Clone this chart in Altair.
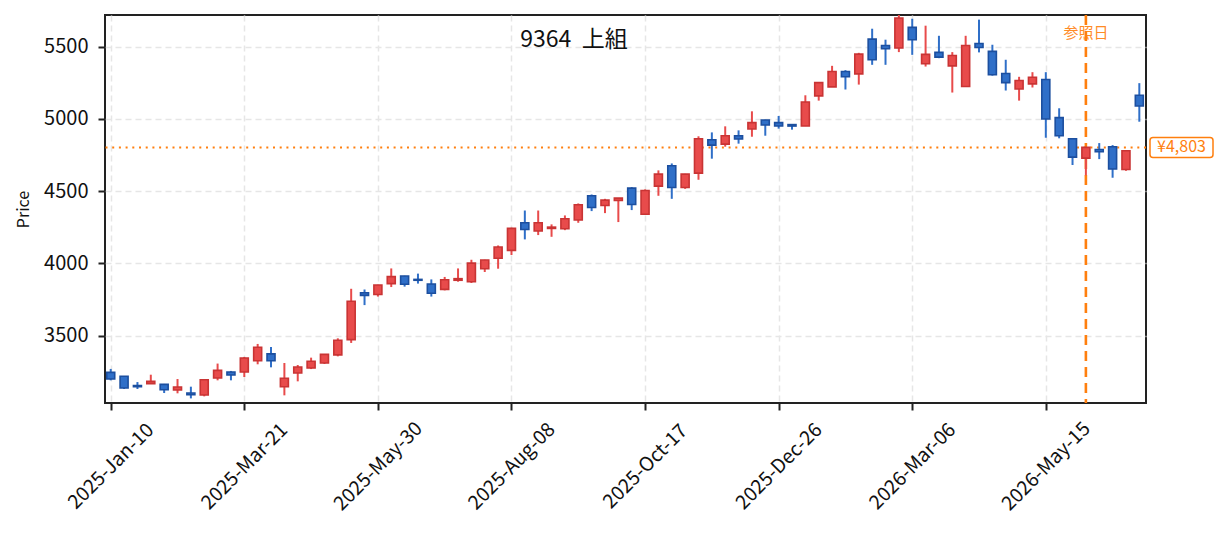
import altair as alt
import pandas as pd

# Weekly candles (week ending Fridays), starting 2025-01-10
start_date = "2025-01-10"
n_weeks = 78

opens = [3245, 3218, 3153, 3167, 3162, 3123, 3102, 3088, 3206, 3248,
         3248, 3326, 3373, 3146, 3241, 3275, 3310, 3366, 3472, 3796,
         3784, 3860, 3912, 3889, 3857, 3820, 3883, 3873, 3963, 4035,
         4090, 4281, 4224, 4242, 4240, 4300, 4468, 4401, 4435, 4521,
         4340, 4535, 4676, 4525, 4625, 4856, 4826, 4884, 4931, 4993,
         4975, 4961, 4951, 5160, 5222, 5329, 5312, 5553, 5509, 5491,
         5634, 5382, 5461, 5368, 5225, 5523, 5468, 5315, 5208, 5243,
         5273, 5009, 4863, 4729, 4789, 4808, 4650, 5164]
highs = [3269, 3220, 3178, 3229, 3165, 3199, 3146, 3196, 3306, 3255,
         3352, 3442, 3421, 3310, 3296, 3347, 3372, 3481, 3824, 3819,
         3852, 3965, 3914, 3929, 3889, 3906, 3965, 4025, 4025, 4124,
         4247, 4366, 4366, 4270, 4332, 4415, 4477, 4447, 4452, 4528,
         4512, 4644, 4692, 4620, 4880, 4907, 4949, 4921, 5053, 4995,
         5021, 4963, 5164, 5252, 5368, 5338, 5458, 5625, 5549, 5750,
         5694, 5646, 5576, 5463, 5576, 5688, 5514, 5410, 5292, 5324,
         5324, 5074, 4865, 4805, 4833, 4819, 4782, 5248]
lows = [3190, 3130, 3130, 3167, 3102, 3100, 3065, 3079, 3190, 3190,
        3213, 3301, 3280, 3086, 3183, 3268, 3303, 3356, 3449, 3711,
        3770, 3836, 3839, 3860, 3770, 3813, 3873, 3864, 3940, 3963,
        4058, 4166, 4196, 4184, 4230, 4281, 4362, 4348, 4286, 4369,
        4338, 4468, 4447, 4516, 4579, 4725, 4808, 4829, 4877, 4884,
        4933, 4926, 4951, 5127, 5222, 5204, 5238, 5375, 5375, 5463,
        5444, 5363, 5421, 5183, 5225, 5461, 5300, 5197, 5127, 5218,
        4870, 4866, 4681, 4610, 4722, 4593, 4641, 4981]
closes = [3199, 3137, 3146, 3183, 3125, 3144, 3090, 3194, 3259, 3227,
          3345, 3419, 3326, 3204, 3282, 3322, 3370, 3468, 3738, 3778,
          3850, 3908, 3855, 3883, 3793, 3887, 3894, 4002, 4023, 4113,
          4242, 4235, 4281, 4251, 4309, 4406, 4387, 4438, 4452, 4408,
          4505, 4618, 4525, 4618, 4863, 4819, 4884, 4861, 4975, 4958,
          4951, 4951, 5118, 5252, 5329, 5292, 5449, 5410, 5486, 5699,
          5549, 5447, 5428, 5440, 5509, 5495, 5306, 5252, 5266, 5289,
          5000, 4884, 4736, 4803, 4773, 4653, 4780, 5090]

tick_dates = [(2025, 1, 10), (2025, 3, 21), (2025, 5, 30), (2025, 8, 8),
              (2025, 10, 17), (2025, 12, 26), (2026, 3, 6), (2026, 5, 15)]
y_ticks = [3500, 4000, 4500, 5000, 5500]
ref_date = "2026-06-05"
ref_price = 4803
ref_label = "¥4,803"
ref_text = "参照日"
title_text = "9364\u00a0\u00a0上組"

dates = pd.date_range(start_date, periods=n_weeks, freq="7D").strftime("%Y-%m-%d")
df = pd.DataFrame({"date": dates, "open": opens, "high": highs,
                   "low": lows, "close": closes})
df["dir"] = ["up" if c >= o else "down" for o, c in zip(opens, closes)]

FONT = "Noto Sans CJK JP"
RED_FILL, RED_EDGE = "#e84b4b", "#c93434"
BLUE_FILL, BLUE_EDGE = "#2f6fc8", "#1c4f9f"
ORANGE = "#ff7f0e"

x_scale = alt.Scale(type="utc", nice=False, padding=0,
                    domain=[alt.DateTime(year=2025, month=1, date=7, utc=True),
                            alt.DateTime(year=2026, month=7, date=6, hours=12, utc=True)])
y_scale = alt.Scale(domain=[3033, 5720], nice=False, zero=False, padding=0)

x_axis = alt.Axis(values=[alt.DateTime(year=y, month=m, date=d, utc=True) for y, m, d in tick_dates],
                  labelExpr="utcFormat(datum.value, '%Y-%b-%d')", labelAngle=-45,
                  labelAlign="center", labelBaseline="middle", labelPadding=56,
                  labelFontSize=19.5, title=None, labelOverlap=False, labelBound=False,
                  labelFlush=False)
y_axis = alt.Axis(values=y_ticks, format="d", title="Price", titleFontSize=16,
                  titleFontWeight="normal", labelFontSize=20, labelPadding=10,
                  titlePadding=12)

base = alt.Chart(df).encode(
    x=alt.X("date:T", scale=x_scale, axis=x_axis),
)

color_dom = ["up", "down"]
wicks = base.mark_rule(strokeWidth=2, clip=True).encode(
    y=alt.Y("low:Q", scale=y_scale, axis=y_axis),
    y2="high:Q",
    color=alt.Color("dir:N", scale=alt.Scale(domain=color_dom, range=[RED_FILL, BLUE_FILL]), legend=None),
)
bodies = base.mark_bar(width=8, strokeWidth=1.6, clip=True).encode(
    y=alt.Y("open:Q"),
    y2="close:Q",
    fill=alt.Fill("dir:N", scale=alt.Scale(domain=color_dom, range=[RED_FILL, BLUE_FILL]), legend=None),
    stroke=alt.Stroke("dir:N", scale=alt.Scale(domain=color_dom, range=[RED_EDGE, BLUE_EDGE]), legend=None),
)

ref_df = pd.DataFrame({"date": [ref_date], "price": [ref_price],
                       "label": [ref_label], "rtext": [ref_text]})

hline = alt.Chart(ref_df).mark_rule(color=ORANGE, strokeWidth=2, strokeDash=[2, 4.7]).encode(
    y=alt.Y("price:Q"))
vline = alt.Chart(ref_df).mark_rule(color=ORANGE, strokeWidth=2.6, strokeDash=[10, 6]).encode(
    x=alt.X("date:T"))
ref_txt = alt.Chart(ref_df).mark_text(color=ORANGE, fontSize=15, font=FONT, opacity=0.9,
                                      baseline="middle").encode(
    x=alt.X("date:T"), y=alt.value(18), text="rtext:N")
box = alt.Chart(ref_df).mark_rect(fill="white", stroke=ORANGE, strokeWidth=1.5, cornerRadius=3,
                                  yOffset=10, y2Offset=-10).encode(
    x=alt.value(1045), x2=alt.value(1108), y=alt.Y("price:Q"), y2="price:Q")
box_txt = alt.Chart(ref_df).mark_text(color=ORANGE, fontSize=16, font=FONT, baseline="middle").encode(
    x=alt.value(1076.5), y=alt.Y("price:Q"), text="label:N")
title = alt.Chart(ref_df).mark_text(fontSize=23, font=FONT, color="#111", baseline="middle").encode(
    x=alt.value(469), y=alt.value(25), text=alt.value(title_text))

chart = alt.layer(hline, vline, wicks, bodies, ref_txt, title, box, box_txt).properties(
    width=1041, height=388,
    autosize=alt.AutoSizeParams(type="none"),
    padding={"left": 97, "top": 7, "right": 70, "bottom": 115},
).configure_view(
    stroke="#222", strokeWidth=2,
).configure_axis(
    labelFont=FONT, titleFont=FONT, labelColor="#111", titleColor="#111",
    domain=False, tickColor="#222", tickWidth=2, tickSize=7,
    grid=True, gridColor="#e6e6e6", gridDash=[6, 4], gridWidth=1.5,
)

chart.save("out.html", embed_options={"renderer": "svg", "actions": False})
